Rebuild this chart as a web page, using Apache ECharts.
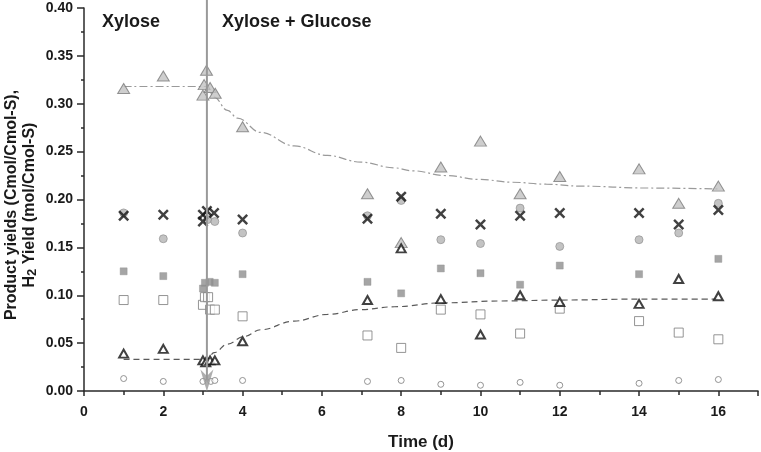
<!DOCTYPE html>
<html><head><meta charset="utf-8">
<script src="https://cdn.jsdelivr.net/npm/echarts@6/dist/echarts.min.js"></script>
<style>html,body{margin:0;padding:0;background:#fff}#c{width:761px;height:452px}</style>
</head><body><div id="c"></div>
<script>
// ---- data ----
const grayTriT = [1, 2, 3.09, 3.03, 3.0, 3.18, 3.31, 4, 7.15, 8, 9, 10, 11, 12, 14, 15, 16];
const grayTriV = [0.316, 0.329, 0.335, 0.320, 0.309, 0.317, 0.311, 0.276, 0.206, 0.155, 0.234, 0.261, 0.206, 0.224, 0.232, 0.196, 0.214];

const crossT = [1, 2, 3.0, 3.0, 3.1, 3.28, 4, 7.15, 8, 9, 10, 11, 12, 14, 15, 16];
const crossV = [0.183, 0.184, 0.177, 0.184, 0.188, 0.186, 0.179, 0.180, 0.203, 0.185, 0.174, 0.183, 0.186, 0.186, 0.174, 0.189];

const grayCircT = [1, 2, 3.12, 3.3, 4, 7.15, 8, 9, 10, 11, 12, 14, 15, 16];
const grayCircV = [0.186, 0.159, 0.179, 0.177, 0.165, 0.183, 0.199, 0.158, 0.154, 0.191, 0.151, 0.158, 0.165, 0.196];

const fillSqT = [1, 2, 3.0, 3.05, 3.17, 3.3, 4, 7.15, 8, 9, 10, 11, 12, 14, 16];
const fillSqV = [0.125, 0.120, 0.107, 0.113, 0.114, 0.113, 0.122, 0.114, 0.102, 0.128, 0.123, 0.111, 0.131, 0.122, 0.138];

const openSqT = [1, 2, 3.0, 3.05, 3.13, 3.18, 3.3, 4, 7.15, 8, 9, 10, 11, 12, 14, 15, 16];
const openSqV = [0.095, 0.095, 0.090, 0.098, 0.098, 0.085, 0.085, 0.078, 0.058, 0.045, 0.085, 0.080, 0.060, 0.086, 0.073, 0.061, 0.054];

const openTriT = [1, 2, 3.0, 3.07, 3.18, 3.3, 4, 7.15, 8, 9, 10, 11, 12, 14, 15, 16];
const openTriV = [0.039, 0.044, 0.032, 0.030, 0.032, 0.032, 0.052, 0.095, 0.149, 0.096, 0.059, 0.100, 0.093, 0.091, 0.117, 0.099];

const smallCircT = [1, 2, 3.0, 3.2, 3.3, 4, 7.15, 8, 9, 10, 11, 12, 14, 15, 16];
const smallCircV = [0.013, 0.010, 0.010, 0.010, 0.011, 0.011, 0.010, 0.011, 0.007, 0.006, 0.009, 0.006, 0.008, 0.011, 0.012];

// fitted curves
const upperFitT = [1, 3.1, 3.28, 3.62, 3.87, 4.46, 5.30, 6.14, 6.99, 7.83, 8.28, 9.13, 9.97, 10.81, 11.66, 12.5, 14.18, 16];
const upperFitV = [0.318, 0.318, 0.307, 0.293, 0.285, 0.270, 0.256, 0.246, 0.239, 0.233, 0.230, 0.225, 0.221, 0.218, 0.216, 0.214, 0.212, 0.211];
const lowerFitT = [1, 3.1, 3.28, 3.62, 4.04, 4.46, 5.30, 6.14, 6.99, 7.83, 9.0, 10.5, 12, 14, 16];
const lowerFitV = [0.033, 0.033, 0.040, 0.049, 0.057, 0.064, 0.073, 0.080, 0.085, 0.088, 0.092, 0.094, 0.095, 0.096, 0.096];

// vertical switch line (glucose addition) with downward arrow
const switchDay = 3.1;
const switchLineV = [0.011, 0.42];
const annotations = ['Xylose', 'Xylose + Glucose'];
const xTitle = 'Time (d)';
const yTitle = 'Product yields (Cmol/Cmol-S),\nH{s|2} Yield (mol/Cmol-S)';

const zip = (a, b) => a.map((t, i) => [t, b[i]]);
const FONT = '"Liberation Sans", Arial, sans-serif';
const crossPath = 'path://M0,1.6L1.6,0L5,3.4L8.4,0L10,1.6L6.6,5L10,8.4L8.4,10L5,6.6L1.6,10L0,8.4L3.4,5Z';
const arrowPath = 'path://M0,0L5,3L10,0L5,10Z';

const chart = echarts.init(document.getElementById('c'), null, {renderer: 'canvas'});
chart.setOption({
  animation: false,
  backgroundColor: '#fff',
  grid: {left: 84, right: 3, top: 8, bottom: 61, containLabel: false, outerBoundsMode: 'none'},
  xAxis: {
    type: 'value', min: 0, max: 17, interval: 2,
    name: xTitle, nameLocation: 'middle', nameGap: 43,
    nameTextStyle: {fontFamily: FONT, fontWeight: 'bold', fontSize: 17, color: '#1a1a1a'},
    axisLine: {show: true, lineStyle: {color: '#2a2a2a', width: 1.5}},
    axisTick: {show: true, inside: false, length: 5, lineStyle: {color: '#2a2a2a', width: 1.5}},
    minorTick: {show: true, splitNumber: 2, length: 4, lineStyle: {color: '#2a2a2a', width: 1.5}},
    axisLabel: {fontFamily: FONT, fontWeight: 'bold', fontSize: 14, color: '#1a1a1a', margin: 14,
      formatter: v => (v % 2 === 0 && v <= 16) ? String(v) : ''},
    splitLine: {show: false}
  },
  yAxis: {
    type: 'value', min: 0, max: 0.4, interval: 0.05,
    axisLine: {show: true, lineStyle: {color: '#2a2a2a', width: 1.5}},
    axisTick: {show: true, inside: false, length: 7, lineStyle: {color: '#2a2a2a', width: 1.5}},
    minorTick: {show: true, splitNumber: 2, length: 3, lineStyle: {color: '#2a2a2a', width: 1.5}},
    axisLabel: {fontFamily: FONT, fontWeight: 'bold', fontSize: 14, color: '#1a1a1a', margin: 11,
      formatter: v => v.toFixed(2)},
    splitLine: {show: false}
  },
  graphic: [
    {type: 'text', x: 102, y: 22, style: {text: annotations[0], font: 'bold 18px ' + FONT, fill: '#1a1a1a', verticalAlign: 'middle'}},
    {type: 'text', x: 222, y: 22, style: {text: annotations[1], font: 'bold 18px ' + FONT, fill: '#1a1a1a', verticalAlign: 'middle'}},
    {type: 'text', x: 21, y: 205, rotation: Math.PI / 2,
      style: {text: yTitle, fontFamily: FONT, fontWeight: 'bold', fontSize: 16, fill: '#1a1a1a', lineHeight: 18,
        align: 'center', verticalAlign: 'middle',
        rich: {s: {fontFamily: FONT, fontWeight: 'bold', fontSize: 13, fill: '#1a1a1a', verticalAlign: 'bottom', padding: [7, 0, 0, 0]}}}}
  ],
  series: [
    {type: 'line', data: zip(upperFitT, upperFitV), showSymbol: false, symbol: 'none', smooth: 0.4, smoothMonotone: 'x',
      lineStyle: {color: '#9a9a9a', width: 1.2, type: [8, 3, 2, 3]}, z: 1, silent: true},
    {type: 'line', data: zip(lowerFitT, lowerFitV), showSymbol: false, symbol: 'none', smooth: 0.4, smoothMonotone: 'x',
      lineStyle: {color: '#5a5a5a', width: 1.2, type: [6, 4]}, z: 1, silent: true},
    {type: 'scatter', data: zip(smallCircT, smallCircV), symbol: 'circle', symbolSize: 6,
      itemStyle: {color: '#fff', borderColor: '#7a7a7a', borderWidth: 1}, z: 2},
    {type: 'scatter', data: zip(openSqT, openSqV), symbol: 'rect', symbolSize: 9,
      itemStyle: {color: '#fff', borderColor: '#7a7a7a', borderWidth: 1}, z: 2},
    {type: 'scatter', data: zip(fillSqT, fillSqV), symbol: 'rect', symbolSize: 7,
      itemStyle: {color: '#8f8f8f', borderColor: '#8f8f8f', borderWidth: 0.5}, z: 3},
    {type: 'scatter', data: zip(grayCircT, grayCircV), symbol: 'circle', symbolSize: 8,
      itemStyle: {color: '#b4b4b4', borderColor: '#8a8a8a', borderWidth: 0.8}, z: 3},
    {type: 'scatter', data: zip(grayTriT, grayTriV), symbol: 'triangle', symbolSize: [12, 10],
      itemStyle: {color: '#c2c2c2', borderColor: '#7a7a7a', borderWidth: 1}, z: 3},
    {type: 'scatter', data: zip(openTriT, openTriV), symbol: 'triangle', symbolSize: [9, 8],
      itemStyle: {color: '#fff', borderColor: '#111', borderWidth: 2}, z: 4},
    {type: 'scatter', data: zip(crossT, crossV), symbol: crossPath, symbolSize: 11,
      itemStyle: {color: '#111', borderWidth: 0}, z: 5},
    {type: 'line', data: switchLineV.map(v => [switchDay, v]), clip: false, z: 6, silent: true,
      showSymbol: false, symbol: 'none',
      lineStyle: {color: '#999', width: 2, type: 'solid'}},
    {type: 'scatter', data: [[switchDay, switchLineV[0]]], clip: false, z: 6, silent: true,
      symbol: arrowPath, symbolSize: [13, 22],
      itemStyle: {color: '#999'}}
  ]
});
</script>
</body></html>
